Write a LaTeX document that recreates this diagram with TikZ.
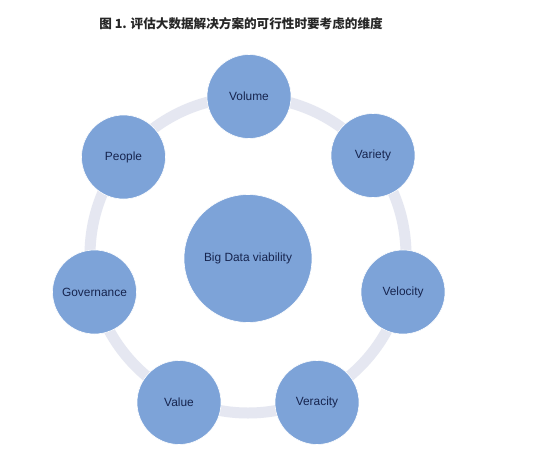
\documentclass[tikz,border=0pt]{standalone}
\usepackage{fontspec}
\setmainfont{Liberation Sans}
\newfontfamily\cjk{Noto Sans CJK SC}
\definecolor{nodefill}{RGB}{125,163,216}
\definecolor{ringcol}{RGB}{229,231,241}
\definecolor{txtcol}{RGB}{22,36,78}
\begin{document}
\begin{tikzpicture}[x=1pt,y=-1pt,
  dim/.style={circle,fill=nodefill,draw=white,line width=0.6pt,minimum size=84pt,inner sep=0pt,text=txtcol,font=\fontsize{11.9}{13}\selectfont},
  core/.style={dim,minimum size=128pt}]
\useasboundingbox[fill=white] (0,0) rectangle (540,463);
\node[font=\cjk\bfseries\fontsize{12.6}{15}\selectfont,text=black!85] (title) at (241,24) {图 1. 评估大数据解决方案的可行性时要考虑的维度};
\coordinate (ringc) at (248,255);
\draw[ringcol,line width=11pt] (ringc) circle[radius=158];
\node[core] (big) at (248,258.5) {Big Data viability};
\node[dim] (volume) at (249,96.5) {Volume};
\node[dim] (variety) at (373,155.5) {Variety};
\node[dim] (velocity) at (403,292) {Velocity};
\node[dim] (veracity) at (317,402.5) {Veracity};
\node[dim] (value) at (179,402.5) {Value};
\node[dim] (governance) at (94.5,292) {Governance};
\node[dim] (people) at (123.5,157) {People};
\end{tikzpicture}
\end{document}
